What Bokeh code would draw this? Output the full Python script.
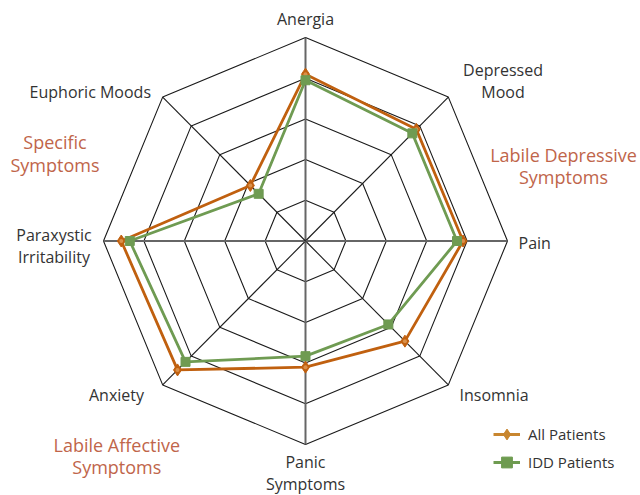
import numpy as np
from bokeh.plotting import figure
from bokeh.models import Range1d, Legend, LegendItem, ColumnDataSource
from bokeh.core.properties import value
from bokeh.embed import file_html
from bokeh.resources import INLINE

# ---- data ----
categories = ["Anergia", "Depressed Mood", "Pain", "Insomnia", "Panic Symptoms",
              "Anxiety", "Paraxystic Irritability", "Euphoric Moods"]
all_patients = [4.10, 3.88, 3.90, 3.48, 3.10, 4.48, 4.56, 1.93]
idd_patients = [3.95, 3.74, 3.75, 2.90, 2.83, 4.20, 4.35, 1.64]
ring_levels = [1, 2, 3, 4, 5]
series_names = ["All Patients", "IDD Patients"]

FONT = "Open Sans"
W, H = 640, 495
CX, CY = 305, 240.5      # px of centre
SX, SY = 40.4, 40.7      # px per unit

p = figure(width=W, height=H, output_backend="svg", toolbar_location=None,
           x_range=Range1d(-CX / SX, (W - CX) / SX),
           y_range=Range1d(-(H - CY) / SY, CY / SY),
           min_border=0)
p.axis.visible = False
p.grid.visible = False
p.outline_line_color = None
p.background_fill_color = None
p.border_fill_color = "white"

n = len(categories)
ang = np.pi / 2 - np.arange(n) * 2 * np.pi / n

def px(sx, sy):
    return (sx - CX) / SX, (CY - sy) / SY

# rings
for r in ring_levels:
    xs = list(r * np.cos(ang)) + [r * np.cos(ang[0])]
    ys = list(r * np.sin(ang)) + [r * np.sin(ang[0])]
    p.line(xs, ys, line_color="#1a1a1a", line_width=1.1)

# spokes
R = max(ring_levels)
for i, a in enumerate(ang):
    axis_aligned = i % 2 == 0
    p.line([0, R * np.cos(a)], [0, R * np.sin(a)],
           line_color="#666666" if axis_aligned else "#1a1a1a",
           line_width=2 if axis_aligned else 1.1)

def closed(vals):
    v = np.array(vals)
    x = v * np.cos(ang)
    y = v * np.sin(ang)
    return list(x) + [x[0]], list(y) + [y[0]], list(x), list(y)

ORANGE = "#C0600F"
GREEN = "#6F9B52"
ax_, ay_, axp, ayp = closed(all_patients)
gx_, gy_, gxp, gyp = closed(idd_patients)
p.line(ax_, ay_, line_color=ORANGE, line_width=2.8)
p.scatter(axp, ayp, marker="diamond", size=12, fill_color=ORANGE, line_color=ORANGE)
p.scatter(axp, ayp, marker="circle", size=4, fill_color="#D9904A", line_color=None)
p.line(gx_, gy_, line_color=GREEN, line_width=2.8)
p.scatter(gxp, gyp, marker="square", size=9, fill_color=GREEN, line_color=GREEN)

# category labels
TXT = "#333333"
labels = [
    ("Anergia", 305, 18, "center"),
    ("Depressed", 502.5, 69.5, "center"),
    ("Mood", 502.5, 91.5, "center"),
    ("Pain", 518, 242.5, "left"),
    ("Insomnia", 459, 394, "left"),
    ("Panic", 305, 461, "center"),
    ("Symptoms", 305, 483, "center"),
    ("Anxiety", 143.5, 394, "right"),
    ("Paraxystic", 53.5, 234, "center"),
    ("Irritability", 53.5, 256, "center"),
    ("Euphoric Moods", 150.5, 91.5, "right"),
]
for t, sx, sy, al in labels:
    x, y = px(sx, sy)
    p.text([x], [y], text=[t], text_align=al, text_baseline="middle",
           text_font=value(FONT), text_font_size="16px", text_color=TXT)

ANN = "#C0654A"
groups = [
    ("Specific", 54.5, 141), ("Symptoms", 54.5, 164),
    ("Labile Depressive", 563, 154), ("Symptoms", 563, 176),
    ("Labile Affective", 116.3, 444), ("Symptoms", 116.3, 466),
]
for t, sx, sy in groups:
    x, y = px(sx, sy)
    p.text([x], [y], text=[t], text_align="center", text_baseline="middle",
           text_font=value(FONT), text_font_size="18px", text_color=ANN)

# legend (lighter swatches, as in reference)
nan_src = ColumnDataSource(dict(x=[np.nan], y=[np.nan]))
l1 = p.line("x", "y", source=nan_src, line_color="#C8862F", line_width=3)
m1 = p.scatter("x", "y", source=nan_src, marker="diamond", size=13,
               fill_color="#C8862F", line_color="#C8862F")
l2 = p.line("x", "y", source=nan_src, line_color="#6E9B50", line_width=3)
m2 = p.scatter("x", "y", source=nan_src, marker="square", size=9,
               fill_color="#6E9B50", line_color="#6E9B50")
legend = Legend(items=[LegendItem(label=series_names[0], renderers=[l1, m1]),
                       LegendItem(label=series_names[1], renderers=[l2, m2])],
                location=(493, 19), padding=0, margin=0, spacing=0,
                glyph_width=27, glyph_height=28, label_height=28,
                label_standoff=8, border_line_color=None,
                background_fill_alpha=0,
                label_text_font=FONT, label_text_font_size="15px",
                label_text_color=TXT)
p.add_layout(legend, "center")

open("out.html", "w").write(file_html(p, INLINE))
